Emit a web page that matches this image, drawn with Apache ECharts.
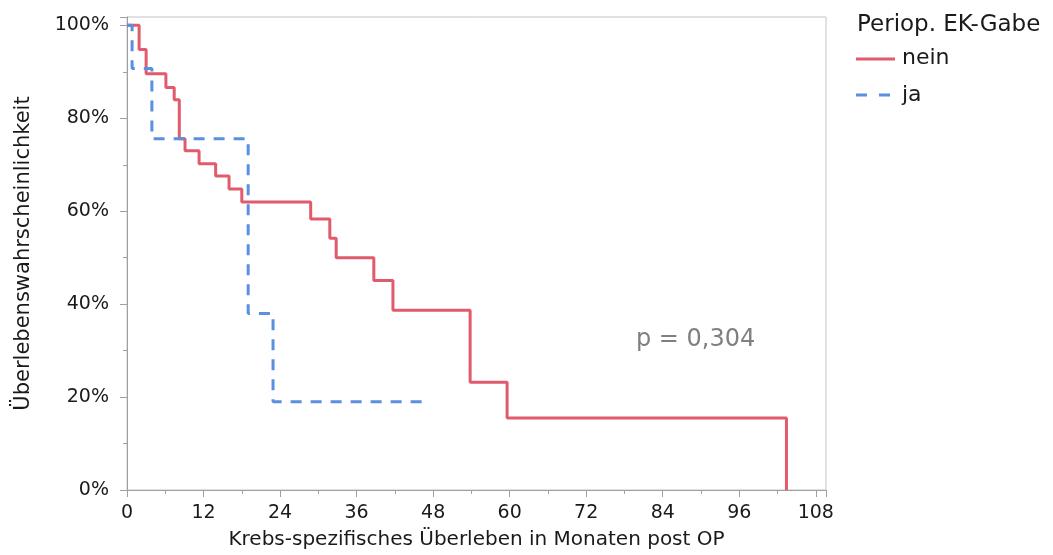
<!DOCTYPE html>
<html>
<head>
<meta charset="utf-8">
<script src="https://cdn.jsdelivr.net/npm/echarts@6/dist/echarts.min.js"></script>
<style>
  html, body { margin: 0; padding: 0; background: #fff; }
  #chart { width: 1053px; height: 555px; }
</style>
</head>
<body>
<div id="chart"></div>
<script>
// Kaplan-Meier estimates: months after surgery and survival at each event
const neinMonths = [0, 1.9, 3.0, 6.1, 7.4, 8.2, 9.1, 11.3, 13.9, 16.0, 18.0, 28.8, 31.8, 32.8, 38.7, 41.7, 53.8, 59.6, 103.4];
const neinSurvival = [1, 0.948, 0.896, 0.866, 0.840, 0.756, 0.730, 0.702, 0.676, 0.648, 0.620, 0.583, 0.542, 0.500, 0.451, 0.387, 0.232, 0.155, 0];
const jaMonths = [0, 0.8, 3.9, 19.0, 22.9, 46.7];
const jaSurvival = [1, 0.907, 0.756, 0.380, 0.190, 0.190];

const xTicks = [0, 12, 24, 36, 48, 60, 72, 84, 96, 108];
const yTicks = [0, 0.2, 0.4, 0.6, 0.8, 1.0];
const groupNames = ['nein', 'ja'];
const legendTitle = 'Periop. EK-Gabe';
const pValueText = 'p = 0,304';

const pairs = (xs, ys) => xs.map((x, i) => [x, ys[i]]);

const RED = '#e15b6c';
const BLUE = '#5b8fdf';
const INK = '#1a1a1a';
const FONT = '"DejaVu Sans", Verdana, sans-serif';

const chart = echarts.init(document.getElementById('chart'));

chart.setOption({
  animation: false,
  grid: {
    left: 127, right: 227, top: 17, bottom: 65,
    show: true, borderColor: '#c4c4c4', borderWidth: 1
  },
  xAxis: {
    type: 'value',
    min: 0, max: 109.6, interval: 12,
    name: 'Krebs-spezifisches Überleben in Monaten post OP',
    nameLocation: 'middle', nameGap: 40,
    nameTextStyle: { fontFamily: FONT, fontSize: 20, color: INK },
    axisLine: { show: true, lineStyle: { color: '#a0a0a0' } },
    axisTick: { show: true, length: 7, lineStyle: { color: '#a0a0a0' } },
    minorTick: { show: true, splitNumber: 2, length: 4, lineStyle: { color: '#a0a0a0' } },
    splitLine: { show: false },
    axisLabel: {
      fontFamily: FONT, fontSize: 19, color: INK, margin: 14,
      formatter: v => xTicks.includes(v) ? String(v) : ''
    }
  },
  yAxis: {
    type: 'value',
    min: 0, max: 1.018, interval: 0.2,
    name: 'Überlebenswahrscheinlichkeit',
    nameLocation: 'middle', nameGap: 93,
    nameTextStyle: { fontFamily: FONT, fontSize: 21, color: INK },
    axisLine: { show: true, lineStyle: { color: '#a0a0a0' } },
    axisTick: { show: true, length: 7, lineStyle: { color: '#a0a0a0' } },
    minorTick: { show: true, splitNumber: 2, length: 4, lineStyle: { color: '#a0a0a0' } },
    splitLine: { show: false },
    axisLabel: {
      fontFamily: FONT, fontSize: 19, color: INK, margin: 18,
      formatter: v => {
        const hit = yTicks.find(t => Math.abs(t - v) < 1e-6);
        return hit === undefined ? '' : Math.round(hit * 100) + '%';
      }
    }
  },
  graphic: [
    // legend block
    {
      type: 'text', x: 857, y: 25,
      style: { text: legendTitle, font: '23px ' + FONT, fill: INK, verticalAlign: 'middle' }
    },
    {
      type: 'line', shape: { x1: 856, y1: 59, x2: 895, y2: 59 },
      style: { stroke: RED, lineWidth: 3 }
    },
    {
      type: 'text', x: 902, y: 58,
      style: { text: groupNames[0], font: '22px ' + FONT, fill: INK, verticalAlign: 'middle' }
    },
    {
      type: 'line', shape: { x1: 856, y1: 95, x2: 893, y2: 95 },
      style: { stroke: BLUE, lineWidth: 3, lineDash: [11, 12] }
    },
    {
      type: 'text', x: 902, y: 95,
      style: { text: groupNames[1], font: '22px ' + FONT, fill: INK, verticalAlign: 'middle' }
    },
    // log-rank p value
    {
      type: 'text', x: 636, y: 340,
      style: { text: pValueText, font: '24px ' + FONT, fill: '#808080', verticalAlign: 'middle' }
    }
  ],
  series: [
    {
      name: groupNames[0], type: 'line', step: 'end',
      data: pairs(neinMonths, neinSurvival),
      symbol: 'none', color: RED,
      lineStyle: { width: 3, color: RED }, z: 3
    },
    {
      name: groupNames[1], type: 'line', step: 'end',
      data: pairs(jaMonths, jaSurvival),
      symbol: 'none', color: BLUE,
      lineStyle: { width: 3, color: BLUE, type: [11, 9] }, z: 4
    }
  ]
});
</script>
</body>
</html>
